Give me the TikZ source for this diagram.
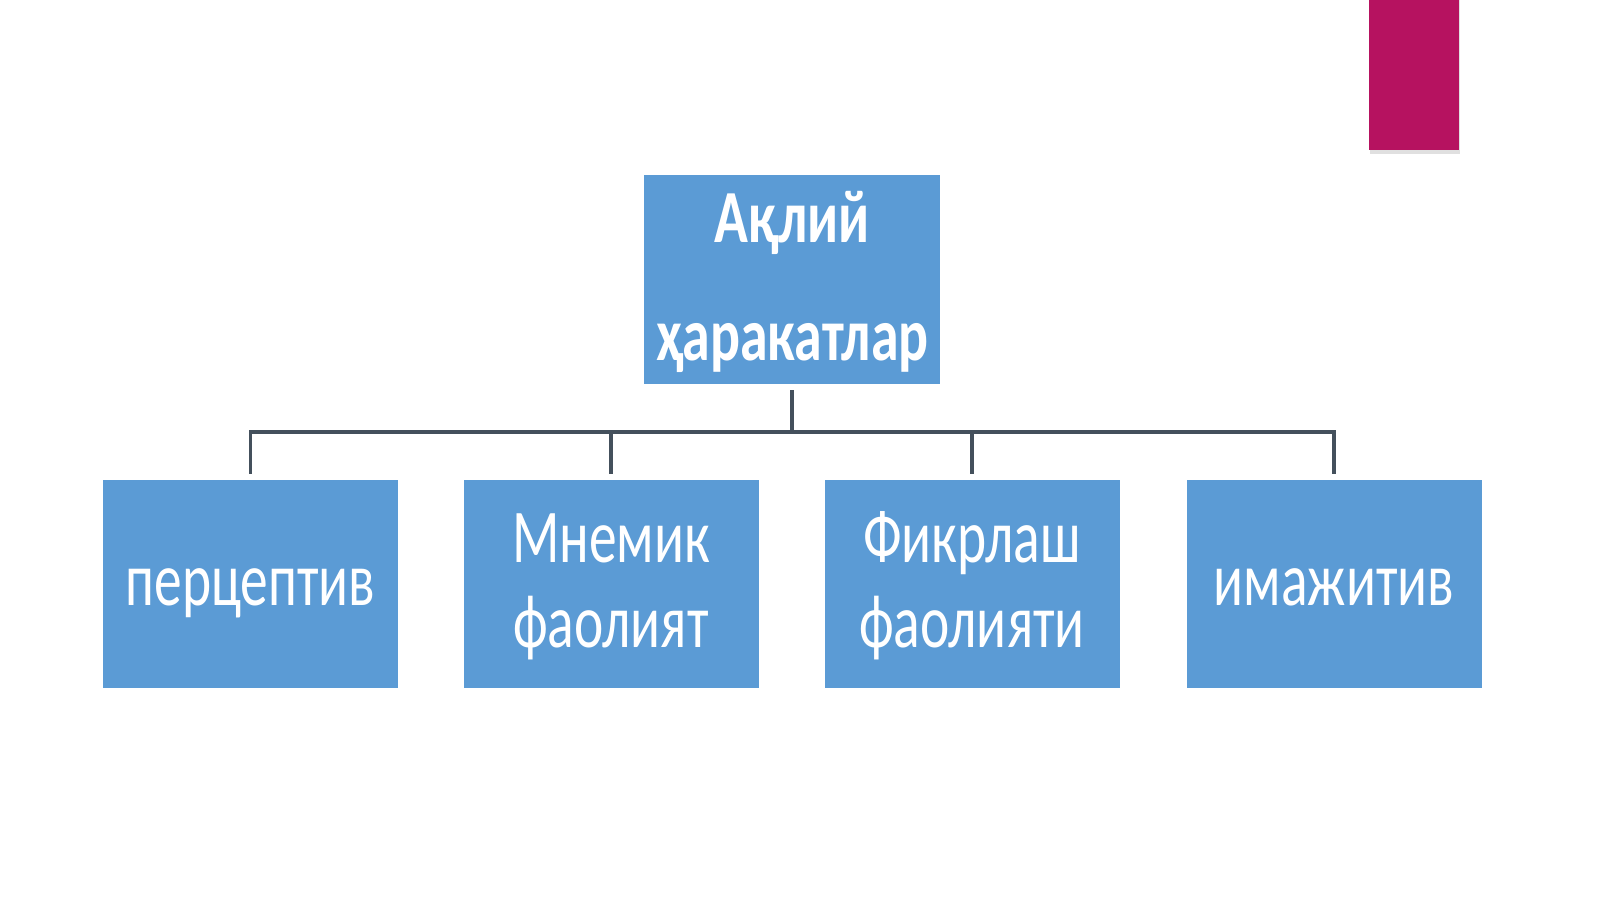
\documentclass[tikz,border=0pt]{standalone}
\usepackage{fontspec}
\setmainfont{Carlito}
\usepackage{graphicx}
\definecolor{boxblue}{RGB}{91,155,213}
\definecolor{linegray}{RGB}{68,80,92}
\definecolor{magbar}{RGB}{182,18,96}
\newcommand{\sq}[1]{\scalebox{0.73}[1]{#1}}
\newcommand{\sqb}[1]{\scalebox{0.745}[1]{#1}}
\tikzset{
  box/.style={fill=boxblue, draw=none, inner sep=0pt, minimum width=295pt, minimum height=208pt},
  txt/.style={text=white, anchor=base, inner sep=0pt, font=\fontsize{76}{85}\selectfont},
  toptxt/.style={text=white, anchor=base, inner sep=0pt, font=\fontsize{75}{118}\selectfont\bfseries},
  conn/.style={draw=linegray, line width=3.2pt}
}
\begin{document}
\begin{tikzpicture}[x=1pt,y=-1pt]
\useasboundingbox[fill=white] (0,0) rectangle (1600,899);
% magenta bar
\fill[black!12] (1370,0) rectangle (1460,154);
\fill[magbar] (1369,0) rectangle (1459,150);
% boxes
\node[box, minimum width=296pt, minimum height=209pt] (top) at (792,279.5) {};
\node[box] (b1) at (250.5,584) {};
\node[box] (b2) at (611,584) {};
\node[box] (b3) at (972,584) {};
\node[box] (b4) at (1334,584) {};
% texts
\node[toptxt] (t0a) at (792,242) {\sqb{Ақлий}};
\node[toptxt] (t0b) at (792,360) {\sqb{ҳаракатлар}};
\node[txt] (t1) at (250.5,605) {\sq{перцептив}};
\node[txt] (t2a) at (611,562) {\sq{Мнемик}};
\node[txt] (t2b) at (611,647) {\sq{фаолият}};
\node[txt] (t3a) at (972,562) {\sq{Фикрлаш}};
\node[txt] (t3b) at (972,647) {\sq{фаолияти}};
\node[txt] (t4) at (1334,605) {\sq{имажитив}};
% connectors
\coordinate (bus) at (0,432);
\draw[conn] ([yshift=-6pt]top.south) -- (top.south |- bus);
\draw[conn] ([yshift=6pt]b1.north) -- (b1.north |- bus) -- (b4.north |- bus) -- ([yshift=6pt]b4.north);
\draw[conn] ([yshift=6pt]b2.north) -- (b2.north |- bus);
\draw[conn] ([yshift=6pt]b3.north) -- (b3.north |- bus);
\end{tikzpicture}
\end{document}
